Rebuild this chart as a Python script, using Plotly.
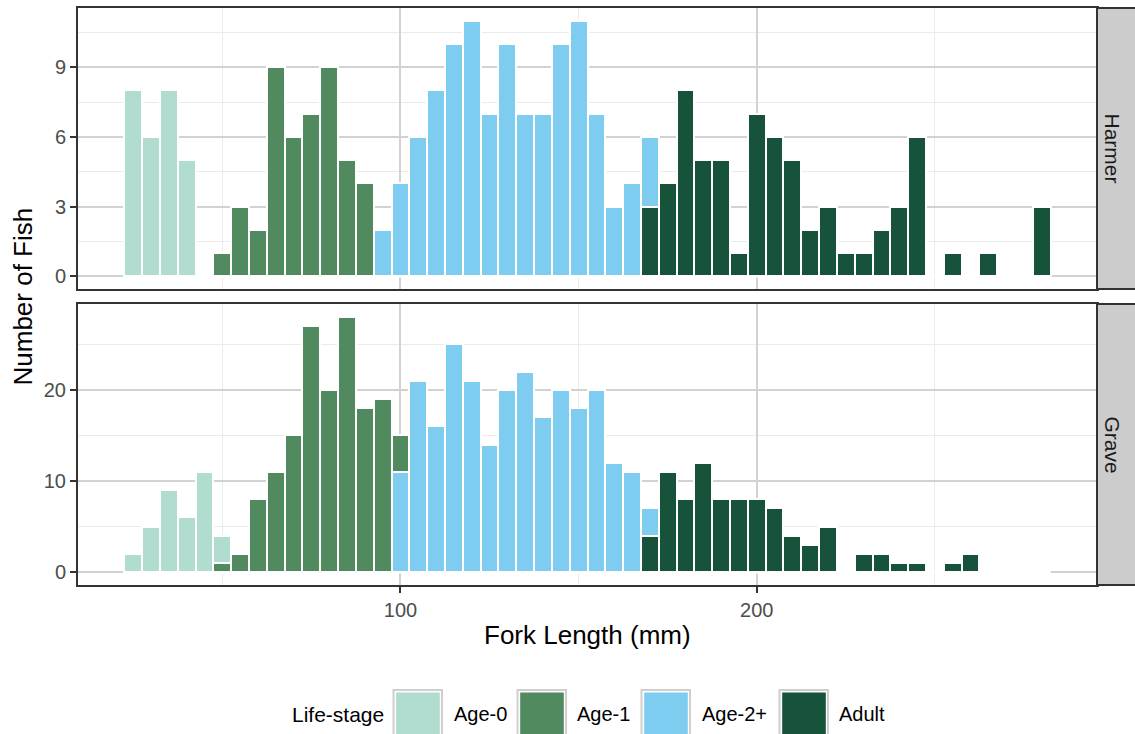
import plotly.graph_objects as go

# ---------------- data (bin centres, mm; counts of fish) ----------------
stages = ["Age-0", "Age-1", "Age-2+", "Adult"]
stage_colors = ["#B0DDD0", "#508A5E", "#7FCCF1", "#16533A"]

harmer_age0_len = [25, 30, 35, 40]
harmer_age0_n = [8, 6, 8, 5]
harmer_age1_len = [50, 55, 60, 65, 70, 75, 80, 85, 90]
harmer_age1_n = [1, 3, 2, 9, 6, 7, 9, 5, 4]
harmer_age2_len = [95, 100, 105, 110, 115, 120, 125, 130, 135, 140, 145, 150, 155, 160, 165, 170]
harmer_age2_n = [2, 4, 6, 8, 10, 11, 7, 10, 7, 7, 10, 11, 7, 3, 4, 3]
harmer_adult_len = [170, 175, 180, 185, 190, 195, 200, 205, 210, 215, 220, 225, 230, 235, 240, 245, 255, 265, 280]
harmer_adult_n = [3, 4, 8, 5, 5, 1, 7, 6, 5, 2, 3, 1, 1, 2, 3, 6, 1, 1, 3]

grave_age0_len = [25, 30, 35, 40, 45, 50]
grave_age0_n = [2, 5, 9, 6, 11, 3]
grave_age1_len = [50, 55, 60, 65, 70, 75, 80, 85, 90, 95, 100]
grave_age1_n = [1, 2, 8, 11, 15, 27, 20, 28, 18, 19, 4]
grave_age2_len = [100, 105, 110, 115, 120, 125, 130, 135, 140, 145, 150, 155, 160, 165, 170]
grave_age2_n = [11, 21, 16, 25, 21, 14, 20, 22, 17, 20, 18, 20, 12, 11, 3]
grave_adult_len = [170, 175, 180, 185, 190, 195, 200, 205, 210, 215, 220, 230, 235, 240, 245, 255, 260]
grave_adult_n = [4, 11, 8, 12, 8, 8, 8, 7, 4, 3, 5, 2, 2, 1, 1, 1, 2]

bin_width = 5
facets = ["Harmer", "Grave"]
x_ticks = [100, 200]
harmer_y_ticks = [0, 3, 6, 9]
grave_y_ticks = [0, 10, 20]

x_title = "Fork Length (mm)"
y_title = "Number of Fish"
legend_title = "Life-stage"

# ---------------- figure ----------------
W, H = 1135, 734
FONT = "Liberation Sans, Arial, Helvetica, sans-serif"


def px_x(v):
    return v / W


def px_y(v):
    return 1 - v / H


fig = go.Figure()

series = {
    "Harmer": [
        (harmer_adult_len, harmer_adult_n, 3),
        (harmer_age2_len, harmer_age2_n, 2),
        (harmer_age1_len, harmer_age1_n, 1),
        (harmer_age0_len, harmer_age0_n, 0),
    ],
    "Grave": [
        (grave_adult_len, grave_adult_n, 3),
        (grave_age2_len, grave_age2_n, 2),
        (grave_age1_len, grave_age1_n, 1),
        (grave_age0_len, grave_age0_n, 0),
    ],
}
axes_for = {"Harmer": ("x2", "y2"), "Grave": ("x", "y")}

for facet in facets:
    xa, ya = axes_for[facet]
    for xs, ns, si in series[facet]:
        fig.add_trace(go.Bar(
            x=xs, y=ns, width=[bin_width] * len(xs),
            name=stages[si], showlegend=False,
            marker=dict(color=stage_colors[si], line=dict(color="white", width=2.5)),
            xaxis=xa, yaxis=ya,
        ))

all_len = (harmer_age0_len + harmer_age1_len + harmer_age2_len + harmer_adult_len
           + grave_age0_len + grave_age1_len + grave_age2_len + grave_adult_len)
x_lo = min(all_len) - bin_width / 2
x_hi = max(all_len) + bin_width / 2
x_pad = (x_hi - x_lo) * 0.05
x_range = [x_lo - x_pad, x_hi + x_pad]


def stacked_max(groups):
    tot = {}
    for xs, ns, _ in groups:
        for x, n in zip(xs, ns):
            tot[x] = tot.get(x, 0) + n
    return max(tot.values())


h_max = stacked_max(series["Harmer"])
g_max = stacked_max(series["Grave"])
h_range = [-0.05 * h_max, h_max * 1.05]
g_range = [-0.05 * g_max, g_max * 1.05]

x_dom = [px_x(78), px_x(1097)]
harmer_dom = [px_y(289), px_y(8)]
grave_dom = [px_y(585), px_y(304)]

border = "#333333"
major_grid = "#d2d2d2"
minor_grid = "#ebebeb"
tick_font = dict(family=FONT, size=20, color="#4d4d4d")

common_x = dict(
    range=x_range, domain=x_dom, tick0=0, dtick=100,
    showgrid=True, gridcolor=major_grid, gridwidth=2,
    minor=dict(tick0=0, dtick=50, showgrid=True, gridcolor=minor_grid, gridwidth=1),
    zeroline=False, showline=True, linecolor=border, linewidth=2, mirror=True,
)
fig.update_layout(
    xaxis=dict(**common_x, anchor="y", ticks="outside", ticklen=6, tickwidth=2,
               tickcolor=border, tickfont=tick_font, tickvals=x_ticks),
    xaxis2=dict(**common_x, anchor="y2", matches="x", showticklabels=False, ticks=""),
    yaxis=dict(range=g_range, domain=grave_dom, anchor="x", tickvals=grave_y_ticks,
               showgrid=True, gridcolor=major_grid, gridwidth=2,
               minor=dict(tick0=0, dtick=5, showgrid=True, gridcolor=minor_grid, gridwidth=1),
               zeroline=False, showline=True, linecolor=border, linewidth=2, mirror=True,
               ticks="outside", ticklen=6, tickwidth=2, tickcolor=border, tickfont=tick_font),
    yaxis2=dict(range=h_range, domain=harmer_dom, anchor="x2", tickvals=harmer_y_ticks,
                showgrid=True, gridcolor=major_grid, gridwidth=2,
                minor=dict(tick0=0, dtick=1.5, showgrid=True, gridcolor=minor_grid, gridwidth=1),
                zeroline=False, showline=True, linecolor=border, linewidth=2, mirror=True,
                ticks="outside", ticklen=6, tickwidth=2, tickcolor=border, tickfont=tick_font),
    barmode="stack", bargap=0,
    width=W, height=H, margin=dict(l=0, r=0, t=0, b=0),
    paper_bgcolor="white", plot_bgcolor="white",
    font=dict(family=FONT, color="black"),
    showlegend=False,
)

shapes = []
# white baseline over zero-count bins (ggplot draws them with white outline)
for xa, ya in [("x", "y"), ("x2", "y2")]:
    shapes.append(dict(type="line", xref=xa, yref=ya, x0=x_lo, x1=x_hi, y0=0, y1=0,
                       line=dict(color="white", width=2.5), layer="between"))

# facet strips on the right
for facet, dom in [("Harmer", harmer_dom), ("Grave", grave_dom)]:
    shapes.append(dict(type="rect", xref="paper", yref="paper",
                       x0=px_x(1097), x1=px_x(1150), y0=dom[0], y1=dom[1],
                       fillcolor="#cccccc", line=dict(color=border, width=2), layer="above"))

annotations = []
for facet, dom in [("Harmer", harmer_dom), ("Grave", grave_dom)]:
    annotations.append(dict(text=facet, xref="paper", yref="paper",
                            x=px_x(1112), y=(dom[0] + dom[1]) / 2, showarrow=False,
                            textangle=90, font=dict(family=FONT, size=21, color="#1a1a1a"),
                            xanchor="center", yanchor="middle"))

# axis titles
annotations.append(dict(text=x_title, xref="paper", yref="paper",
                        x=(x_dom[0] + x_dom[1]) / 2, y=px_y(635), showarrow=False,
                        font=dict(family=FONT, size=26, color="black"),
                        xanchor="center", yanchor="middle"))
annotations.append(dict(text=y_title, xref="paper", yref="paper",
                        x=px_x(22), y=(grave_dom[0] + harmer_dom[1]) / 2, showarrow=False,
                        textangle=-90, font=dict(family=FONT, size=26, color="black"),
                        xanchor="center", yanchor="middle"))

# legend (drawn manually to mimic ggplot's large keys)
leg_y = 714
annotations.append(dict(text=legend_title, xref="paper", yref="paper",
                        x=px_x(290), y=px_y(leg_y), showarrow=False,
                        font=dict(family=FONT, size=21, color="black"),
                        xanchor="left", yanchor="middle"))
key_left = [393.5, 517.5, 641.5, 779.5]
text_left = [451.5, 575, 700, 837]
for i, st in enumerate(stages):
    kx = key_left[i]
    shapes.append(dict(type="rect", xref="paper", yref="paper",
                       x0=px_x(kx), x1=px_x(kx + 48.5), y0=px_y(745), y1=px_y(690),
                       fillcolor="white", line=dict(color="#cfcfcf", width=2), layer="above"))
    shapes.append(dict(type="rect", xref="paper", yref="paper",
                       x0=px_x(kx + 2.7), x1=px_x(kx + 46.3), y0=px_y(745), y1=px_y(692.5),
                       fillcolor=stage_colors[i], line=dict(width=0), layer="above"))
    annotations.append(dict(text=st, xref="paper", yref="paper",
                            x=px_x(text_left[i]), y=px_y(leg_y), showarrow=False,
                            font=dict(family=FONT, size=20, color="black"),
                            xanchor="left", yanchor="middle"))

fig.update_layout(shapes=shapes, annotations=annotations)
fig.write_html("out.html")
